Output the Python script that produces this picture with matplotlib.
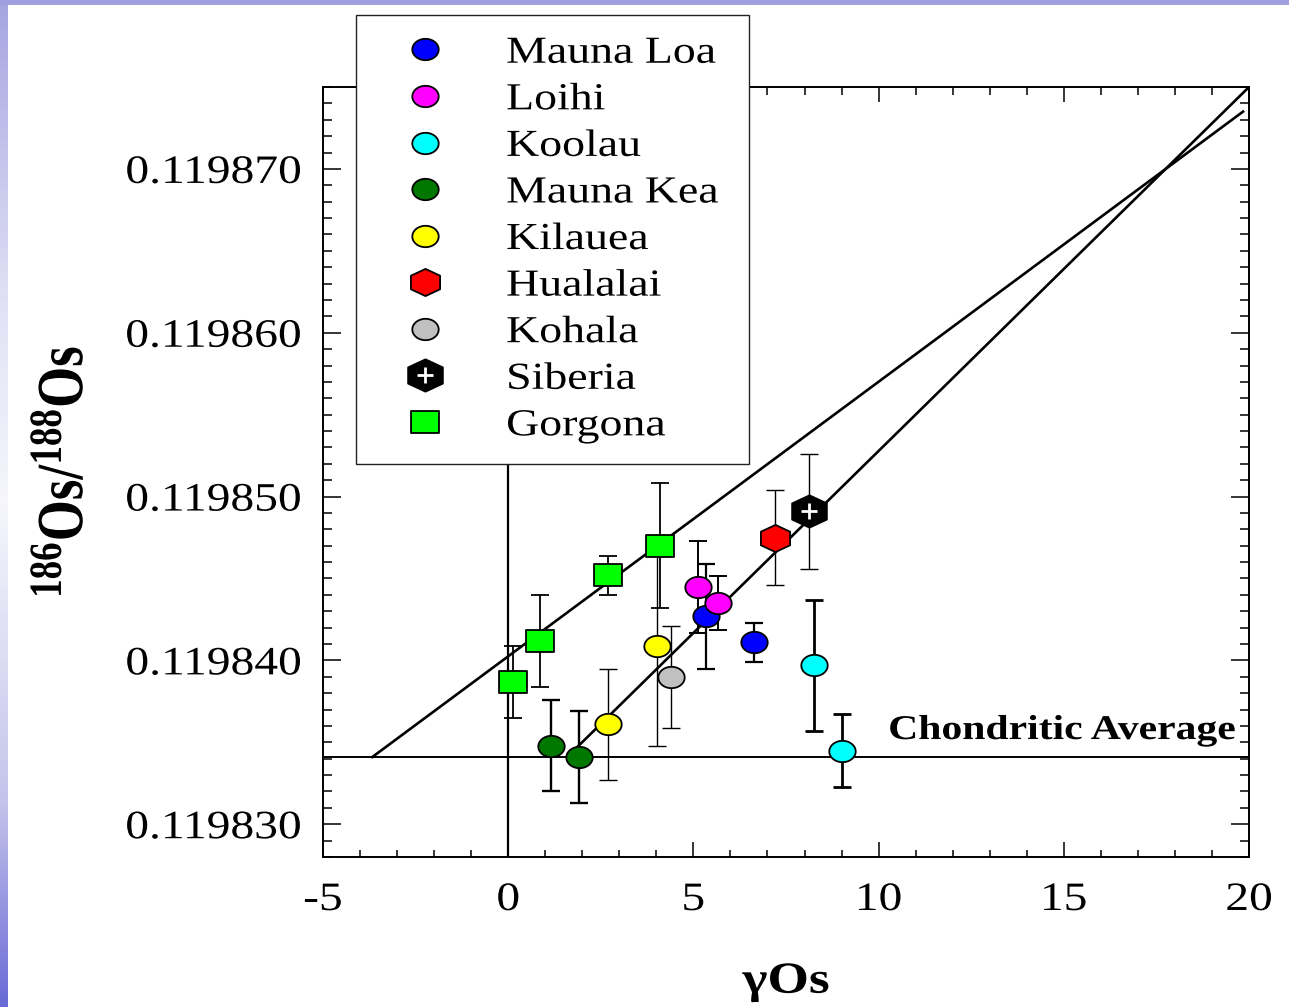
import numpy as np
import matplotlib
matplotlib.use("Agg")
import matplotlib.pyplot as plt
from matplotlib.path import Path
from matplotlib.legend_handler import HandlerTuple
from matplotlib.patheffects import AbstractPathEffect
from matplotlib.transforms import Affine2D
from matplotlib.ticker import MultipleLocator, FormatStrFormatter

plt.rcParams['font.family'] = ['Liberation Serif', 'DejaVu Serif']
plt.rcParams['axes.unicode_minus'] = False
plt.rcParams['mathtext.fontset'] = 'custom'
plt.rcParams['mathtext.rm'] = 'Liberation Serif:bold'
plt.rcParams['mathtext.it'] = 'Liberation Serif:bold'
plt.rcParams['mathtext.bf'] = 'Liberation Serif:bold'

# --- data (gamma Os, 186Os/188Os, 2 sigma) ---
names = ["Mauna Loa", "Loihi", "Koolau", "Mauna Kea", "Kilauea",
         "Hualalai", "Kohala", "Siberia", "Gorgona"]

mauna_loa_x = [5.35, 6.64]
mauna_loa_y = [0.1198427, 0.1198411]
mauna_loa_err = [3.2e-6, 1.2e-6]

loihi_x = [5.13, 5.67]
loihi_y = [0.1198445, 0.1198435]
loihi_err = [2.8e-6, 1.65e-6]

koolau_x = [8.26, 9.02]
koolau_y = [0.1198397, 0.1198345]
koolau_err = [4.0e-6, 2.2e-6]

mauna_kea_x = [1.16, 1.92]
mauna_kea_y = [0.1198348, 0.1198341]
mauna_kea_err = [2.8e-6, 2.8e-6]

kilauea_x = [2.70, 4.02]
kilauea_y = [0.1198361, 0.1198409]
kilauea_err = [3.4e-6, 6.1e-6]

hualalai_x = [7.21]
hualalai_y = [0.1198475]
hualalai_err = [2.9e-6]

kohala_x = [4.40]
kohala_y = [0.1198390]
kohala_err = [3.1e-6]

siberia_x = [8.13]
siberia_y = [0.1198491]
siberia_err = [3.5e-6]

gorgona_x = [0.13, 0.86, 2.70, 4.10]
gorgona_y = [0.1198387, 0.1198412, 0.1198452, 0.1198470]
gorgona_err = [2.2e-6, 2.8e-6, 1.2e-6, 3.8e-6]

chondritic_avg = 0.1198341
# two reference lines (start / end points)
line_gorgona_x = [-3.67, 19.84]
line_gorgona_y = [0.1198341, 0.1198735]
line_hawaii_x = [1.59, 20.0]
line_hawaii_y = [0.1198341, 0.119875]


class Stretch(AbstractPathEffect):
    """Widen text glyphs (the original slide is stretched sideways)."""

    def __init__(self, sx=1.2, sy=1.0, anchor="left"):
        super().__init__()
        self.sx, self.sy, self.anchor = sx, sy, anchor

    def draw_path(self, renderer, gc, tpath, affine, rgbFace=None):
        ext = tpath.get_extents()
        x0 = {"left": 0.0, "center": (ext.x0 + ext.x1) / 2, "right": ext.x1}[self.anchor]
        pre = Affine2D().translate(-x0, 0).scale(self.sx, self.sy).translate(x0, 0)
        renderer.draw_path(gc, tpath, pre + affine, rgbFace)


def ellipse(aspect):
    t = np.linspace(0, 2 * np.pi, 73)
    return Path(np.column_stack([np.cos(t), aspect * np.sin(t)]), closed=True)


def hexagon(stretch):
    a = np.radians(90 + 60 * np.arange(7))
    return Path(np.column_stack([stretch * np.cos(a), np.sin(a)]), closed=True)


def rect(aspect):
    v = [(-1, -aspect), (1, -aspect), (1, aspect), (-1, aspect), (-1, -aspect)]
    return Path(v, closed=True)


ELL = ellipse(0.81)
HEX = hexagon(1.24)
SQR = rect(0.82)

data = {
    "Mauna Loa": (mauna_loa_x, mauna_loa_y, mauna_loa_err),
    "Loihi": (loihi_x, loihi_y, loihi_err),
    "Koolau": (koolau_x, koolau_y, koolau_err),
    "Mauna Kea": (mauna_kea_x, mauna_kea_y, mauna_kea_err),
    "Kilauea": (kilauea_x, kilauea_y, kilauea_err),
    "Hualalai": (hualalai_x, hualalai_y, hualalai_err),
    "Kohala": (kohala_x, kohala_y, kohala_err),
    "Siberia": (siberia_x, siberia_y, siberia_err),
    "Gorgona": (gorgona_x, gorgona_y, gorgona_err),
}
styles = {
    "Mauna Loa": dict(marker=ELL, ms=19, color="#0000ff", elw=1.6),
    "Loihi": dict(marker=ELL, ms=19, color="#ff00ff", elw=1.4),
    "Koolau": dict(marker=ELL, ms=19, color="#00ffff", elw=2.0),
    "Mauna Kea": dict(marker=ELL, ms=19, color="#007800", elw=1.7),
    "Kilauea": dict(marker=ELL, ms=19, color="#ffff00", elw=1.0),
    "Hualalai": dict(marker=HEX, ms=21, color="#ff0000", elw=1.0),
    "Kohala": dict(marker=ELL, ms=19, color="#c0c0c0", elw=1.0),
    "Siberia": dict(marker=HEX, ms=25, color="#000000", elw=1.0),
    "Gorgona": dict(marker=SQR, ms=20, color="#00ff00", elw=1.3),
}

W, H = 1289, 1007
fig = plt.figure(figsize=(W / 100, H / 100), dpi=100)

# slide-style border
strip = fig.add_axes([0, 0, 8 / W, 1])
yy = np.linspace(0, 1, 300)
stops = [0.0, 0.3, 0.5, 0.8, 1.0]
rgb = np.stack([np.interp(yy, stops, [165, 225, 246, 195, 105]),
                np.interp(yy, stops, [165, 225, 246, 195, 105]),
                np.interp(yy, stops, [225, 245, 252, 235, 215])], axis=1) / 255
strip.imshow(rgb[:, None, :], aspect="auto", extent=[0, 1, 1, 0])
strip.axis("off")
top = fig.add_axes([0, 1 - 5 / H, 1, 5 / H])
top.set_facecolor("#a0a0e0")
top.set_xticks([]); top.set_yticks([])
for s in top.spines.values():
    s.set_visible(False)

ax = fig.add_axes([323 / W, 1 - 857 / H, (1249 - 323) / W, (857 - 87) / H])
ax.set_xlim(-5, 20)
ax.set_ylim(0.119828, 0.119875)

ax.axhline(chondritic_avg, color="black", lw=1.4, zorder=1)
ax.axvline(0, color="black", lw=1.6, zorder=1)
ax.plot(line_gorgona_x, line_gorgona_y, color="black", lw=1.9, zorder=1)
ax.plot(line_hawaii_x, line_hawaii_y, color="black", lw=1.9, zorder=1)

handles = []
for name in names:
    x, y, e = data[name]
    st = styles[name]
    ax.errorbar(x, y, yerr=e, fmt="none", ecolor="black", elinewidth=st["elw"],
                capsize=6.5, capthick=st["elw"], zorder=2)
    h, = ax.plot(x, y, ls="none", marker=st["marker"], ms=st["ms"],
                 mfc=st["color"], mec="black", mew=1.3, zorder=4)
    if name == "Siberia":
        p, = ax.plot(x, y, ls="none", marker="+", ms=11, mec="white", mew=2, zorder=5)
        h = (h, p)
    handles.append(h)

ax.text(19.63, 0.1198352, "Chondritic Average", ha="right", va="baseline",
        fontsize=25, fontweight="bold", path_effects=[Stretch(1.2, anchor="right")])

ax.xaxis.set_major_locator(MultipleLocator(5))
ax.xaxis.set_minor_locator(MultipleLocator(1))
ax.yaxis.set_major_locator(MultipleLocator(0.00001))
ax.yaxis.set_minor_locator(MultipleLocator(0.000001))
ax.yaxis.set_major_formatter(FormatStrFormatter("%.6f"))
ax.tick_params(which="both", direction="in", top=True, right=True, width=1.1)
ax.tick_params(axis="x", which="major", length=10.8, labelsize=29, pad=18)
ax.tick_params(axis="x", which="minor", length=5.4)
ax.tick_params(axis="y", which="major", length=13, labelsize=29, pad=16)
ax.tick_params(axis="y", which="minor", length=6.5)
for s in ax.spines.values():
    s.set_linewidth(1.4)
for lbl in ax.get_xticklabels():
    lbl.set_path_effects([Stretch(1.18, anchor="center")])
for lbl in ax.get_yticklabels():
    lbl.set_path_effects([Stretch(1.18, anchor="right")])

ax.set_xlabel("γOs", fontsize=32, fontweight="bold",
              path_effects=[Stretch(1.2, anchor="center")])
ax.xaxis.set_label_coords(0.5, -0.136)
ax.set_ylabel(r"$\mathrm{^{186}Os/^{188}Os}$", fontsize=38,
              path_effects=[Stretch(1.0, 1.25)])
ax.yaxis.set_label_coords(-0.248, 0.5)

leg = ax.legend(handles, names, loc="upper left",
                bbox_to_anchor=(356 / W, 1 - 463 / H, 393 / W, 448 / H), mode="expand",
                bbox_transform=fig.transFigure, fontsize=27.5, frameon=True,
                fancybox=False, framealpha=1, edgecolor="#222222", borderpad=0.55,
                handlelength=2.5, handletextpad=0.88, labelspacing=0.31,
                borderaxespad=0, handler_map={tuple: HandlerTuple(ndivide=1, pad=0)})
leg.get_frame().set_linewidth(1.0)
for t in leg.get_texts():
    t.set_path_effects([Stretch(1.2)])

fig.savefig("out.png", dpi=100)
